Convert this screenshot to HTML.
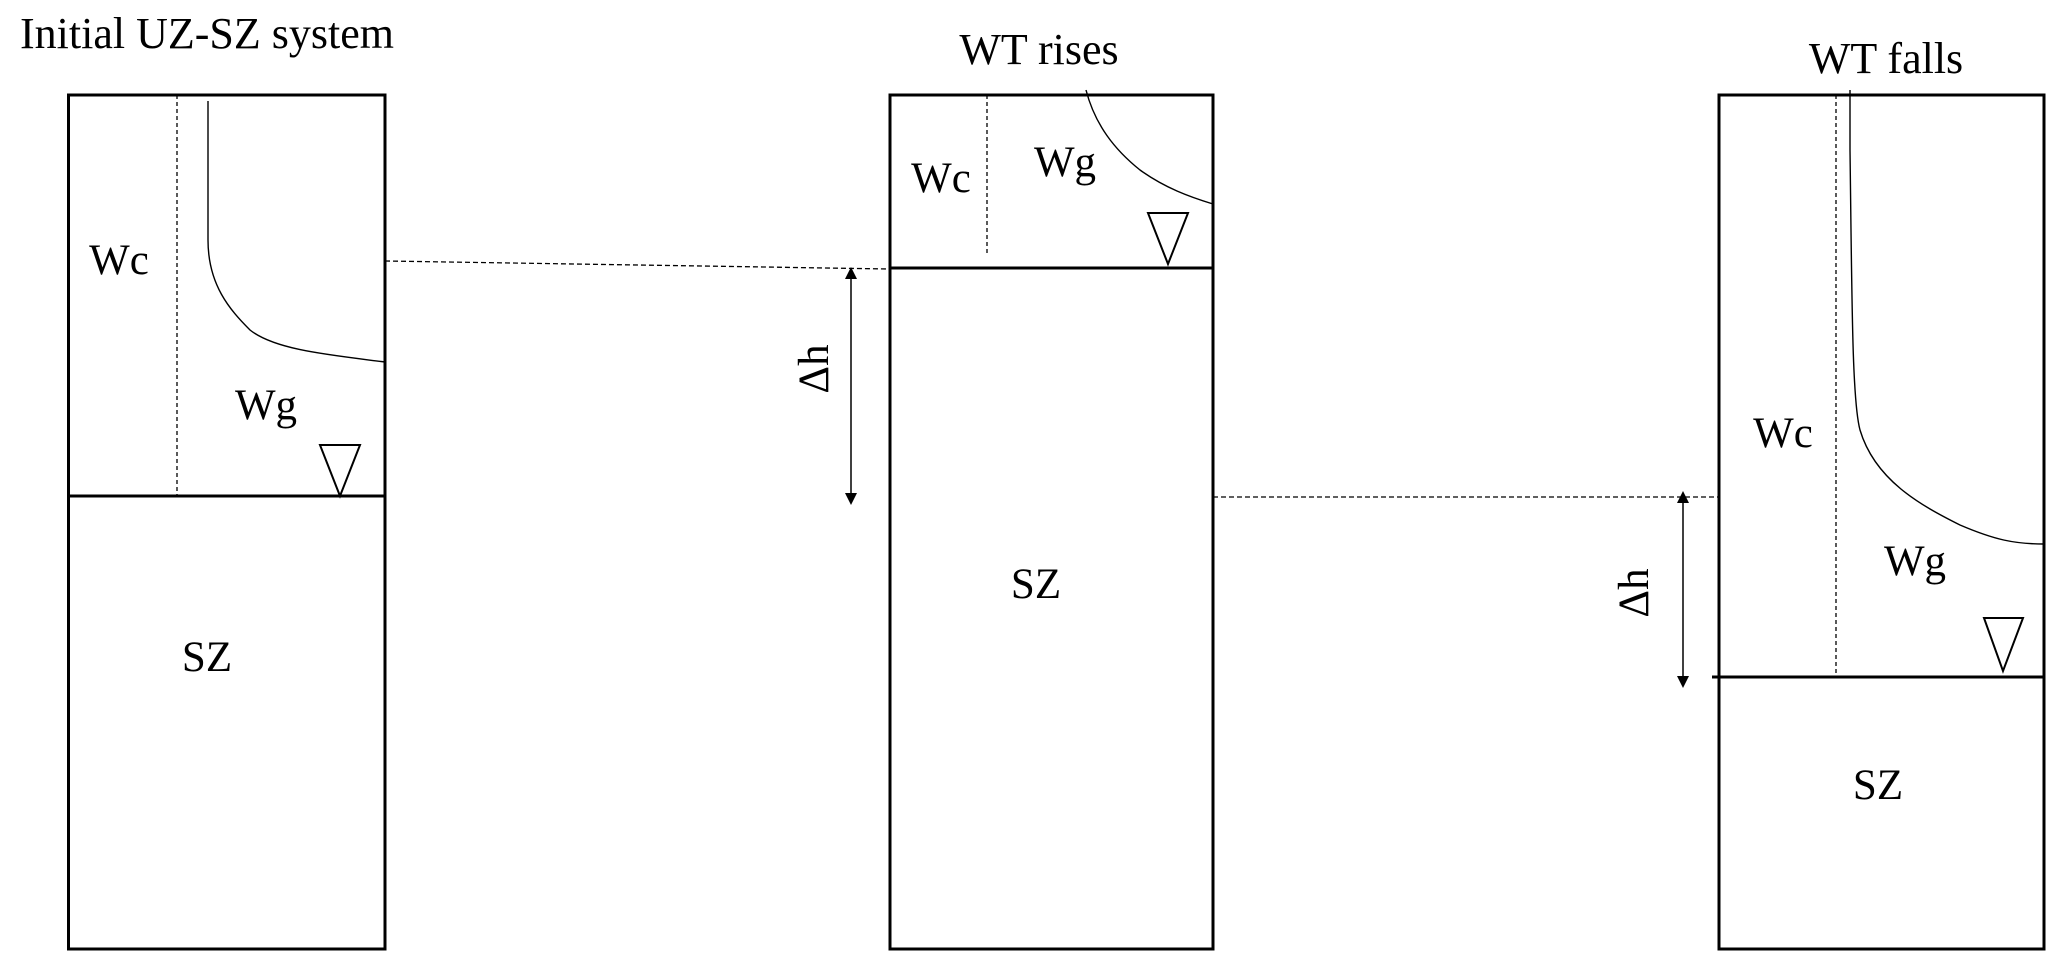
<!DOCTYPE html>
<html><head><style>
html,body{margin:0;padding:0;background:#fff;}
svg{display:block;}
text{font-family:"Liberation Serif",serif;fill:#000;}
</style></head><body>
<svg width="2067" height="974" viewBox="0 0 2067 974" xmlns="http://www.w3.org/2000/svg">
<defs>
<marker id="ah" markerWidth="12" markerHeight="12" refX="6" refY="6" orient="auto-start-reverse" markerUnits="userSpaceOnUse">
<path d="M0,0 L12,6 L0,12 z" fill="#000"/>
</marker>
</defs>
<g fill="none" stroke="#000">
<rect x="68.5" y="95" width="316.5" height="854" stroke-width="3"/>
<line x1="68.5" y1="496" x2="385" y2="496" stroke-width="3"/>
<line x1="177" y1="95" x2="177" y2="496" stroke-width="1.3" stroke-dasharray="4,3"/>
<path d="M208,101 L208,240 C208,285 230,310 250,330 C275,350 330,355 385,362" stroke-width="1.4"/>
<path d="M320,445 L360,445 L340,496 Z" stroke-width="2"/>
<rect x="890" y="95" width="323" height="854" stroke-width="3"/>
<line x1="890" y1="268" x2="1213" y2="268" stroke-width="3"/>
<line x1="987" y1="95" x2="987" y2="254" stroke-width="1.3" stroke-dasharray="4,3"/>
<path d="M1086,90 C1095,125 1115,150 1140,170 C1165,188 1190,197 1213,204" stroke-width="1.4"/>
<path d="M1148,213 L1188,213 L1168,264 Z" stroke-width="2"/>
<rect x="1719" y="95" width="325" height="854" stroke-width="3"/>
<line x1="1712" y1="677" x2="2044" y2="677" stroke-width="3"/>
<line x1="1836" y1="95" x2="1836" y2="677" stroke-width="1.3" stroke-dasharray="4,3"/>
<path d="M1850,90 L1850,150 C1852,300 1852,400 1860,430 C1875,480 1920,505 1960,525 C1995,540 2015,544 2044,544" stroke-width="1.4"/>
<path d="M1984,618 L2023,618 L2003,671 Z" stroke-width="2"/>
<line x1="385" y1="261" x2="890" y2="269" stroke-width="1.3" stroke-dasharray="5,3"/>
<line x1="1213" y1="497" x2="1719" y2="497" stroke-width="1.3" stroke-dasharray="5,3"/>
<line x1="851" y1="273" x2="851" y2="499" stroke-width="1.5" marker-start="url(#ah)" marker-end="url(#ah)"/>
<line x1="1683" y1="497" x2="1683" y2="682" stroke-width="1.5" marker-start="url(#ah)" marker-end="url(#ah)"/>
</g>
<g font-size="43">
<text x="20" y="48" font-size="44">Initial UZ-SZ system</text>
<text x="1039" y="64" text-anchor="middle" font-size="44">WT rises</text>
<text x="1886" y="73" text-anchor="middle" font-size="44">WT falls</text>
<text x="119" y="274" text-anchor="middle">Wc</text>
<text x="266" y="419" text-anchor="middle">Wg</text>
<text x="207" y="671" text-anchor="middle">SZ</text>
<text x="941" y="192" text-anchor="middle">Wc</text>
<text x="1065" y="176" text-anchor="middle">Wg</text>
<text x="1036" y="598" text-anchor="middle">SZ</text>
<text x="1783" y="447" text-anchor="middle">Wc</text>
<text x="1915" y="575" text-anchor="middle">Wg</text>
<text x="1878" y="799" text-anchor="middle">SZ</text>
<text transform="translate(828,369) rotate(-90)" text-anchor="middle">Δh</text>
<text transform="translate(1648,593) rotate(-90)" text-anchor="middle">Δh</text>
</g>
</svg>
</body></html>
